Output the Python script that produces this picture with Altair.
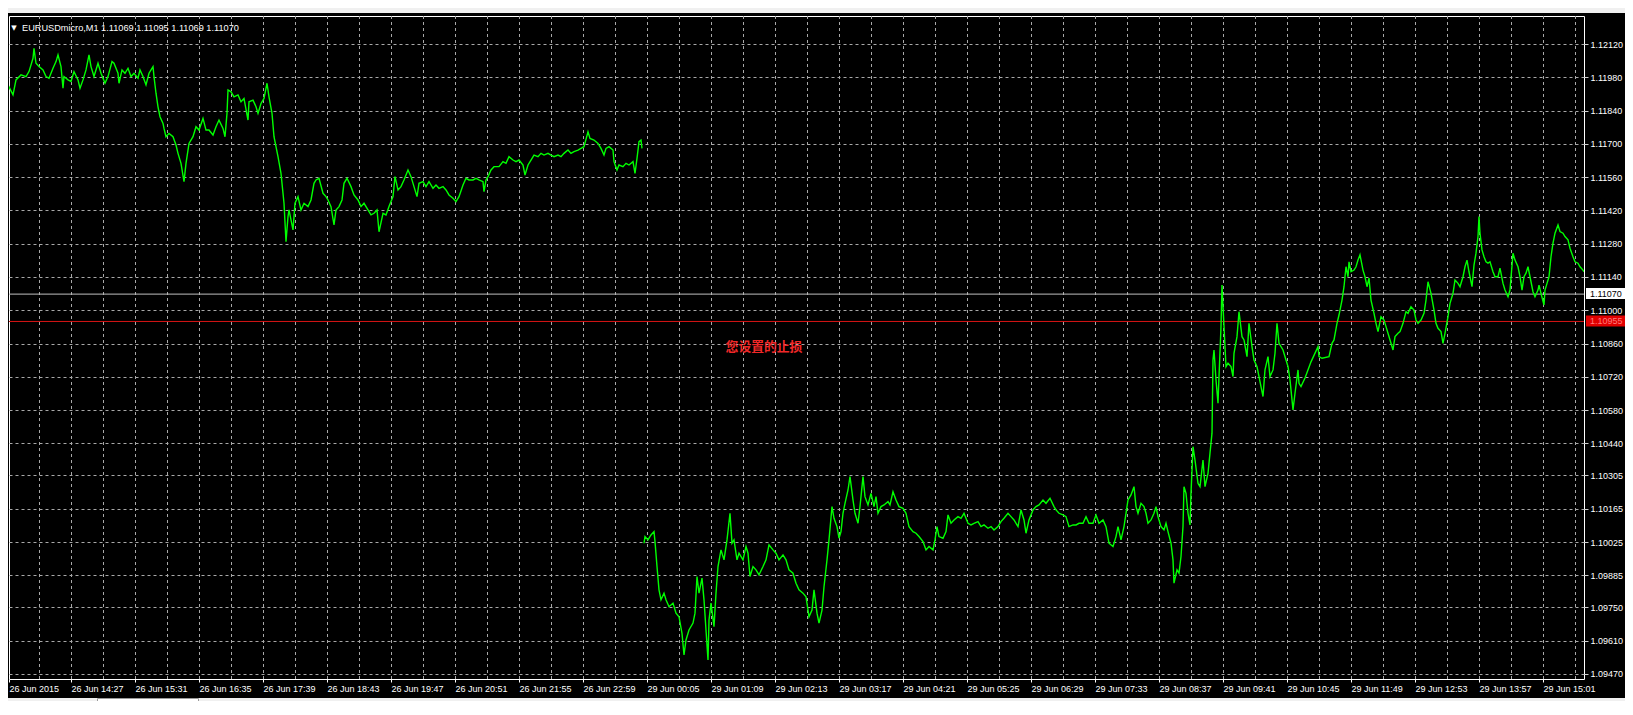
import altair as alt
import pandas as pd

# ---------------- values ----------------
X_TICK_BARS = [2] + list(range(64, 1537, 64))
X_TICK_LABELS = [
    "26 Jun 2015", "26 Jun 14:27", "26 Jun 15:31", "26 Jun 16:35", "26 Jun 17:39",
    "26 Jun 18:43", "26 Jun 19:47", "26 Jun 20:51", "26 Jun 21:55", "26 Jun 22:59",
    "29 Jun 00:05", "29 Jun 01:09", "29 Jun 02:13", "29 Jun 03:17", "29 Jun 04:21",
    "29 Jun 05:25", "29 Jun 06:29", "29 Jun 07:33", "29 Jun 08:37", "29 Jun 09:41",
    "29 Jun 10:45", "29 Jun 11:49", "29 Jun 12:53", "29 Jun 13:57", "29 Jun 15:01",
]
Y_TICKS = [1.12120, 1.11980, 1.11840, 1.11700, 1.11560, 1.11420, 1.11280, 1.11140,
           1.11000, 1.10860, 1.10720, 1.10580, 1.10440, 1.10305, 1.10165, 1.10025,
           1.09885, 1.09750, 1.09610, 1.09470]
GRID_BARS = list(range(32, 1578, 32))

BID = 1.11070
STOP = 1.10955
HEADER = "EURUSDmicro,M1  1.11069 1.11095 1.11069 1.11070"
NOTE = "您设置的止损"
NOTE_BAR = 757
NOTE_PRICE = 1.10844

# Friday 26 Jun (bar index, close)
FRI_A = [(1,1.11948),(6,1.11906),(9,1.11969),(14,1.11990),(19,1.11983),(22,1.12004),(26,1.12060),(27,1.12102),(29,1.12039),(32,1.12025),
         (36,1.12011),(39,1.11983),(42,1.11976),(46,1.12018),(49,1.12046),(51,1.12074),(54,1.12025),(56,1.11934),(57,1.11983),(61,1.11969),
         (64,1.11962),(67,1.12004),(71,1.11969),(73,1.11934),(76,1.11969),(79,1.12011),(82,1.12074),(84,1.12025),(87,1.11983),(91,1.12039),
         (94,1.11997),(98,1.11955),(101,1.11983),(105,1.12046),(107,1.12039),(111,1.11997),(112,1.11955),(115,1.12011),(118,1.11997),(121,1.12018),
         (124,1.11983),(127,1.11997),(131,1.11976),(133,1.12011),(136,1.11983),(139,1.11948),(142,1.11997),(146,1.12025),(147,1.11983),(149,1.11913)]
FRI_B = [(151,1.11856),(153,1.11814),(156,1.11786),(157,1.11765),(159,1.11730),(162,1.11744),(166,1.11730),(169,1.11695),(171,1.11660),(174,1.11618),
         (177,1.11541),(179,1.11618),(182,1.11702),(186,1.11730),(189,1.11772),(192,1.11758),(196,1.11807),(199,1.11758),(202,1.11758),(206,1.11737),
         (209,1.11772),(212,1.11800),(216,1.11765),(218,1.11730),(220,1.11828),(221,1.11927),(224,1.11919),(227,1.11898),(231,1.11906),(234,1.11877),
         (237,1.11891),(241,1.11800),(242,1.11877),(246,1.11884),(249,1.11856),(251,1.11828),(254,1.11870),(257,1.11891),(260,1.11955),(262,1.11898),
         (265,1.11828),(267,1.11730),(271,1.11646),(274,1.11576),(277,1.11450),(279,1.11288),(281,1.11394),(282,1.11422),(286,1.11338),(288,1.11450),
         (291,1.11478),(294,1.11422),(297,1.11450),(301,1.11436),(304,1.11464),(307,1.11534),(309,1.11548),(312,1.11555),(316,1.11492),(319,1.11478)]
FRI_C = [(321,1.11464),(324,1.11436),(327,1.11359),(329,1.11422),(332,1.11436),(335,1.11464),(337,1.11534),(340,1.11555),(344,1.11520),(347,1.11485),
         (351,1.11464),(354,1.11436),(357,1.11450),(361,1.11422),(364,1.11401),(367,1.11408),(370,1.11422),(372,1.11330),(376,1.11408),(379,1.11401),
         (382,1.11436),(386,1.11478),(388,1.11562),(391,1.11506),(394,1.11520),(397,1.11548),(401,1.11590),(404,1.11562),(407,1.11520),(410,1.11478),
         (412,1.11534),(416,1.11541),(419,1.11520),(422,1.11541),(426,1.11513),(429,1.11527),(432,1.11513),(436,1.11520),(439,1.11506),(442,1.11485),
         (446,1.11471),(449,1.11457),(452,1.11478),(456,1.11527),(459,1.11555),(462,1.11548),(466,1.11548),(469,1.11555),(472,1.11548),(476,1.11541)]
FRI_D = [(477,1.11499),(479,1.11548),(481,1.11562),(484,1.11590),(487,1.11604),(492,1.11604),(496,1.11625),(499,1.11618),(502,1.11646),(506,1.11632),
         (509,1.11625),(512,1.11632),(516,1.11611),(518,1.11569),(521,1.11611),(524,1.11632),(527,1.11653),(531,1.11646),(534,1.11660),(537,1.11653),
         (541,1.11660),(544,1.11653),(547,1.11646),(551,1.11653),(554,1.11646),(557,1.11660),(561,1.11674),(564,1.11660),(567,1.11667),(571,1.11674),
         (574,1.11681),(577,1.11688),(581,1.11751),(583,1.11723),(587,1.11716),(591,1.11702),(594,1.11681),(597,1.11653),(599,1.11681),(602,1.11688),
         (606,1.11674),(607,1.11625),(610,1.11590),(612,1.11611),(616,1.11604),(619,1.11618),(622,1.11611),(626,1.11625),(628,1.11576),(630,1.11639),
         (632,1.11709),(634,1.11716),(635,1.11681)]

# Monday 29 Jun
MON_A = [(637,1.10020),(638,1.10048),(641,1.10034),(644,1.10055),(647,1.10069),(648,1.10027),(650,1.09922),(652,1.09824),(654,1.09782),(657,1.09810),
         (659,1.09782),(662,1.09753),(666,1.09768),(669,1.09726),(672,1.09711),(675,1.09641),(677,1.09550),(679,1.09613),(682,1.09655),(686,1.09684),
         (688,1.09726),(690,1.09880),(692,1.09810),(695,1.09873),(697,1.09782),(699,1.09655),(701,1.09529),(702,1.09697),(704,1.09768),(707,1.09669),
         (709,1.09810),(711,1.09922),(714,1.09992),(717,1.09950),(720,1.10034),(723,1.10146),(725,1.10020),(727,1.10034),(730,1.09950),(732,1.09978),
         (736,1.09950),(739,1.10006),(741,1.09978),(743,1.09880),(746,1.09922),(749,1.09908),(752,1.09887),(756,1.09922),(759,1.09950),(762,1.10013),
         (766,1.09992),(769,1.09978),(772,1.09950),(776,1.09971),(779,1.09950),(782,1.09908),(786,1.09894),(789,1.09852),(792,1.09824),(796,1.09810),
         (799,1.09795),(802,1.09711),(805,1.09739),(807,1.09824),(810,1.09726),(812,1.09684),(815,1.09739),(817,1.09837),(820,1.09950),(822,1.10034)]
MON_B = [(825,1.10174),(827,1.10125),(830,1.10090),(832,1.10041),(834,1.10069),(836,1.10146),(838,1.10188),(841,1.10244),(843,1.10300),(846,1.10202),
         (848,1.10146),(851,1.10104),(853,1.10174),(856,1.10300),(858,1.10216),(861,1.10181),(864,1.10230),(867,1.10174),(869,1.10216),(871,1.10146),
         (874,1.10174),(877,1.10181),(881,1.10195),(883,1.10181),(886,1.10237),(889,1.10202),(892,1.10174),(896,1.10167),(899,1.10146),(902,1.10090),
         (906,1.10069),(909,1.10062),(912,1.10048),(916,1.10027),(919,1.09992),(922,1.10006),(926,1.09992),(928,1.10034),(930,1.10090),(932,1.10048),
         (936,1.10041),(939,1.10069),(941,1.10139),(944,1.10104),(947,1.10118),(951,1.10132),(954,1.10125),(957,1.10146),(961,1.10104),(964,1.10097),
         (967,1.10104),(971,1.10111),(974,1.10090),(977,1.10097),(981,1.10083),(984,1.10090),(987,1.10076),(991,1.10090),(994,1.10111)]
MON_C = [(997,1.10125),(1001,1.10146),(1004,1.10132),(1007,1.10118),(1011,1.10090),(1014,1.10160),(1017,1.10118),(1019,1.10062),(1022,1.10118),(1026,1.10160),
         (1029,1.10174),(1032,1.10181),(1036,1.10202),(1039,1.10188),(1043,1.10209),(1047,1.10174),(1049,1.10160),(1052,1.10146),(1056,1.10139),(1059,1.10132),
         (1062,1.10090),(1066,1.10097),(1069,1.10097),(1072,1.10104),(1076,1.10104),(1079,1.10132),(1082,1.10104),(1086,1.10104),(1089,1.10139),(1092,1.10104),
         (1096,1.10118),(1099,1.10090),(1102,1.10020),(1106,1.10006),(1109,1.10048),(1111,1.10090),(1114,1.10034),(1117,1.10090),(1119,1.10146),(1121,1.10202),
         (1124,1.10223),(1127,1.10258),(1129,1.10174),(1131,1.10146),(1134,1.10188),(1137,1.10174),(1139,1.10146),(1141,1.10104),(1144,1.10118),(1147,1.10146),
         (1149,1.10174),(1151,1.10132),(1154,1.10090),(1157,1.10076),(1159,1.10104),(1161,1.10069),(1164,1.10020),(1166,1.09950),(1167,1.09852),(1170,1.09908),
         (1172,1.09894),(1174,1.09964),(1176,1.10090),(1177,1.10258),(1179,1.10230),(1181,1.10146),(1183,1.10097),(1184,1.10230),(1186,1.10426),(1188,1.10370)]
MON_D = [(1191,1.10272),(1193,1.10258),(1196,1.10370),(1198,1.10258),(1201,1.10314),(1203,1.10399),(1205,1.10483),(1206,1.10791),(1207,1.10833),(1209,1.10707),
         (1211,1.10609),(1212,1.10721),(1214,1.10931),(1215,1.11106),(1217,1.10931),(1219,1.10763),(1221,1.10777),(1224,1.10763),(1226,1.10721),(1227,1.10819),
         (1230,1.10889),(1232,1.10994),(1235,1.10889),(1237,1.10875),(1240,1.10805),(1242,1.10945),(1245,1.10847),(1247,1.10791),(1250,1.10763),(1252,1.10721),
         (1256,1.10637),(1258,1.10749),(1261,1.10805),(1263,1.10721),(1266,1.10749),(1268,1.10819),(1270,1.10945),(1272,1.10861),(1276,1.10833),(1279,1.10791),
         (1281,1.10763),(1283,1.10707),(1286,1.10581),(1288,1.10651),(1291,1.10749),(1292,1.10693),(1294,1.10679),(1298,1.10715),(1304,1.10783)]
MON_E = [(1311,1.10847),(1312,1.10805),(1315,1.10798),(1322,1.10805),(1325,1.10861),(1327,1.10875),(1330,1.10945),(1332,1.10980),(1335,1.11043),(1337,1.11099),
         (1339,1.11183),(1341,1.11141),(1342,1.11204),(1344,1.11162),(1347,1.11169),(1349,1.11183),(1351,1.11211),(1353,1.11233),(1356,1.11169),(1358,1.11141),
         (1360,1.11099),(1362,1.11135),(1364,1.11043),(1367,1.10987),(1369,1.10945),(1371,1.10910),(1374,1.10973),(1377,1.10959),(1379,1.10931),(1381,1.10903),
         (1384,1.10861),(1386,1.10833),(1388,1.10889),(1391,1.10903),(1393,1.10910),(1396,1.10945),(1399,1.10994),(1401,1.10987),(1404,1.11015),(1407,1.11001),
         (1409,1.10959),(1411,1.10945),(1414,1.10959),(1417,1.10987),(1419,1.11043),(1421,1.11120),(1424,1.11071),(1427,1.11001),(1429,1.10945),(1431,1.10924),
         (1434,1.10910),(1436,1.10861),(1438,1.10903),(1441,1.10973),(1443,1.11029),(1446,1.11071),(1448,1.11127),(1451,1.11113),(1453,1.11099),(1456,1.11141)]
MON_F = [(1458,1.11183),(1460,1.11211),(1462,1.11162),(1465,1.11099),(1467,1.11190),(1469,1.11240),(1471,1.11310),(1472,1.11394),(1473,1.11324),(1475,1.11254),
         (1477,1.11225),(1479,1.11204),(1481,1.11198),(1483,1.11204),(1486,1.11162),(1488,1.11141),(1491,1.11141),(1493,1.11177),(1496,1.11113),(1498,1.11085),
         (1501,1.11057),(1503,1.11085),(1506,1.11240),(1508,1.11211),(1511,1.11183),(1513,1.11141),(1515,1.11085),(1517,1.11141),(1519,1.11156),(1521,1.11183),
         (1523,1.11141),(1526,1.11078),(1528,1.11057),(1531,1.11085),(1532,1.11106),(1534,1.11071),(1537,1.11022),(1538,1.11085),(1540,1.11113),(1542,1.11141),
         (1544,1.11225),(1546,1.11282),(1548,1.11324),(1551,1.11359),(1553,1.11331),(1556,1.11324),(1558,1.11310),(1561,1.11296),(1563,1.11261),(1566,1.11225),
         (1568,1.11204),(1571,1.11198),(1573,1.11183),(1576,1.11169),(1577,1.11162)]

# ---------------- tables ----------------
rows = []
for seg, parts in (("fri", [FRI_A, FRI_B, FRI_C, FRI_D]),
                   ("mon", [MON_A, MON_B, MON_C, MON_D, MON_E, MON_F])):
    for part in parts:
        for b, p in part:
            rows.append({"bar": b, "price": p, "seg": seg})
line_df = pd.DataFrame(rows)

FONT = "Liberation Sans"
xs = alt.Scale(domain=[2, 1577], nice=False, zero=False)
ys = alt.Scale(domain=[1.094489, 1.122378], nice=False, zero=False)

lab_js = "[" + ",".join("'%s'" % s for s in X_TICK_LABELS) + "]"
bar_js = "[" + ",".join(str(b) for b in X_TICK_BARS) + "]"
xaxis = alt.Axis(values=X_TICK_BARS, labelExpr=f"{lab_js}[indexof({bar_js}, datum.value)]",
                 grid=False, domain=False, ticks=True, tickSize=3, tickColor="#ffffff",
                 labelColor="#ffffff", labelFont=FONT, labelFontSize=9, labelAlign="left",
                 labelBaseline="top", labelPadding=2, labelOverlap=False, labelFlush=False,
                 title=None)
yaxis = alt.Axis(orient="right", values=Y_TICKS, format=".5f", grid=True,
                 gridColor="#a8a8a8", gridDash=[3, 3], gridWidth=1, domain=False,
                 tickSize=4, tickColor="#d0d0d0", labelColor="#ffffff", labelFont=FONT,
                 labelFontSize=9, labelAlign="left", labelBaseline="middle",
                 labelPadding=2, labelOverlap=False, labelFlush=False, title=None)

X = alt.X("bar:Q", scale=xs, axis=xaxis)
Y = alt.Y("price:Q", scale=ys, axis=yaxis)
one = pd.DataFrame({"k": [0]})

# window chrome (toolbar edge above, tab strip below)
top_strip = alt.Chart(one).mark_rect(color="#f0f0f0").encode(
    x=alt.value(-1), x2=alt.value(1616), y=alt.value(-8), y2=alt.value(-3))
bottom_strip = alt.Chart(one).mark_rect(color="#f0f0f0").encode(
    x=alt.value(-1), x2=alt.value(1616), y=alt.value(682), y2=alt.value(700))
active_tab = alt.Chart(one).mark_rect(color="#ffffff", stroke="#9a9a9a", strokeWidth=1).encode(
    x=alt.value(88.5), x2=alt.value(189.5), y=alt.value(682.5), y2=alt.value(702))

vgrid = alt.Chart(pd.DataFrame({"bar": GRID_BARS})).mark_rule(
    color="#a8a8a8", strokeDash=[3, 3], strokeWidth=1, xOffset=0.5).encode(x=X)

levels = alt.Chart(pd.DataFrame({"price": [BID, STOP], "col": ["#c0c0c0", "#d81414"]})).mark_rule(
    strokeWidth=1, yOffset=0.5).encode(y=Y, color=alt.Color("col:N", scale=None))

line = alt.Chart(line_df).mark_line(color="#00ff00", strokeWidth=1.4, clip=True).encode(
    x=X, y=Y, detail="seg:N")

note = alt.Chart(pd.DataFrame({"bar": [NOTE_BAR], "price": [NOTE_PRICE], "t": [NOTE]})).mark_text(
    font="Noto Sans CJK SC", fontSize=12.8, fontWeight="bold", color="#f02828",
    align="center", baseline="middle").encode(x=X, y=Y, text="t:N")

boxes_df = pd.DataFrame({"price": [BID, STOP], "fill": ["#ffffff", "#e00000"],
                         "ink": ["#000000", "#ff7a7a"]})
box_bg = alt.Chart(boxes_df).mark_tick(orient="horizontal", size=41, thickness=11, opacity=1).encode(
    y=Y, x=alt.value(1597.5), color=alt.Color("fill:N", scale=None))
box_txt = alt.Chart(boxes_df).mark_text(font=FONT, fontSize=9, align="left", baseline="middle").encode(
    y=Y, x=alt.value(1581), text=alt.Text("price:Q", format=".5f"), color=alt.Color("ink:N", scale=None))

tri = alt.Chart(pd.DataFrame({"t": ["▼"]})).mark_text(
    font="DejaVu Sans", fontSize=7, color="#ffffff", align="center", baseline="middle").encode(
    x=alt.value(5), y=alt.value(11.5), text="t:N")
header = alt.Chart(pd.DataFrame({"t": [HEADER]})).mark_text(
    font=FONT, fontSize=9.2, color="#ffffff", align="left", baseline="middle").encode(
    x=alt.value(13), y=alt.value(11.5), text="t:N")

chart = alt.layer(top_strip, bottom_strip, active_tab,
                  vgrid, levels, line, note, box_bg, box_txt, tri, header).properties(
    width=1575, height=663,
    autosize=alt.AutoSizeParams(type="none"),
    padding={"left": 1, "top": 8, "right": 41, "bottom": 22},
    background="#000000",
).configure_view(stroke="#ffffff", strokeWidth=1)

chart.save("out.html", embed_options={"renderer": "svg", "actions": False})
